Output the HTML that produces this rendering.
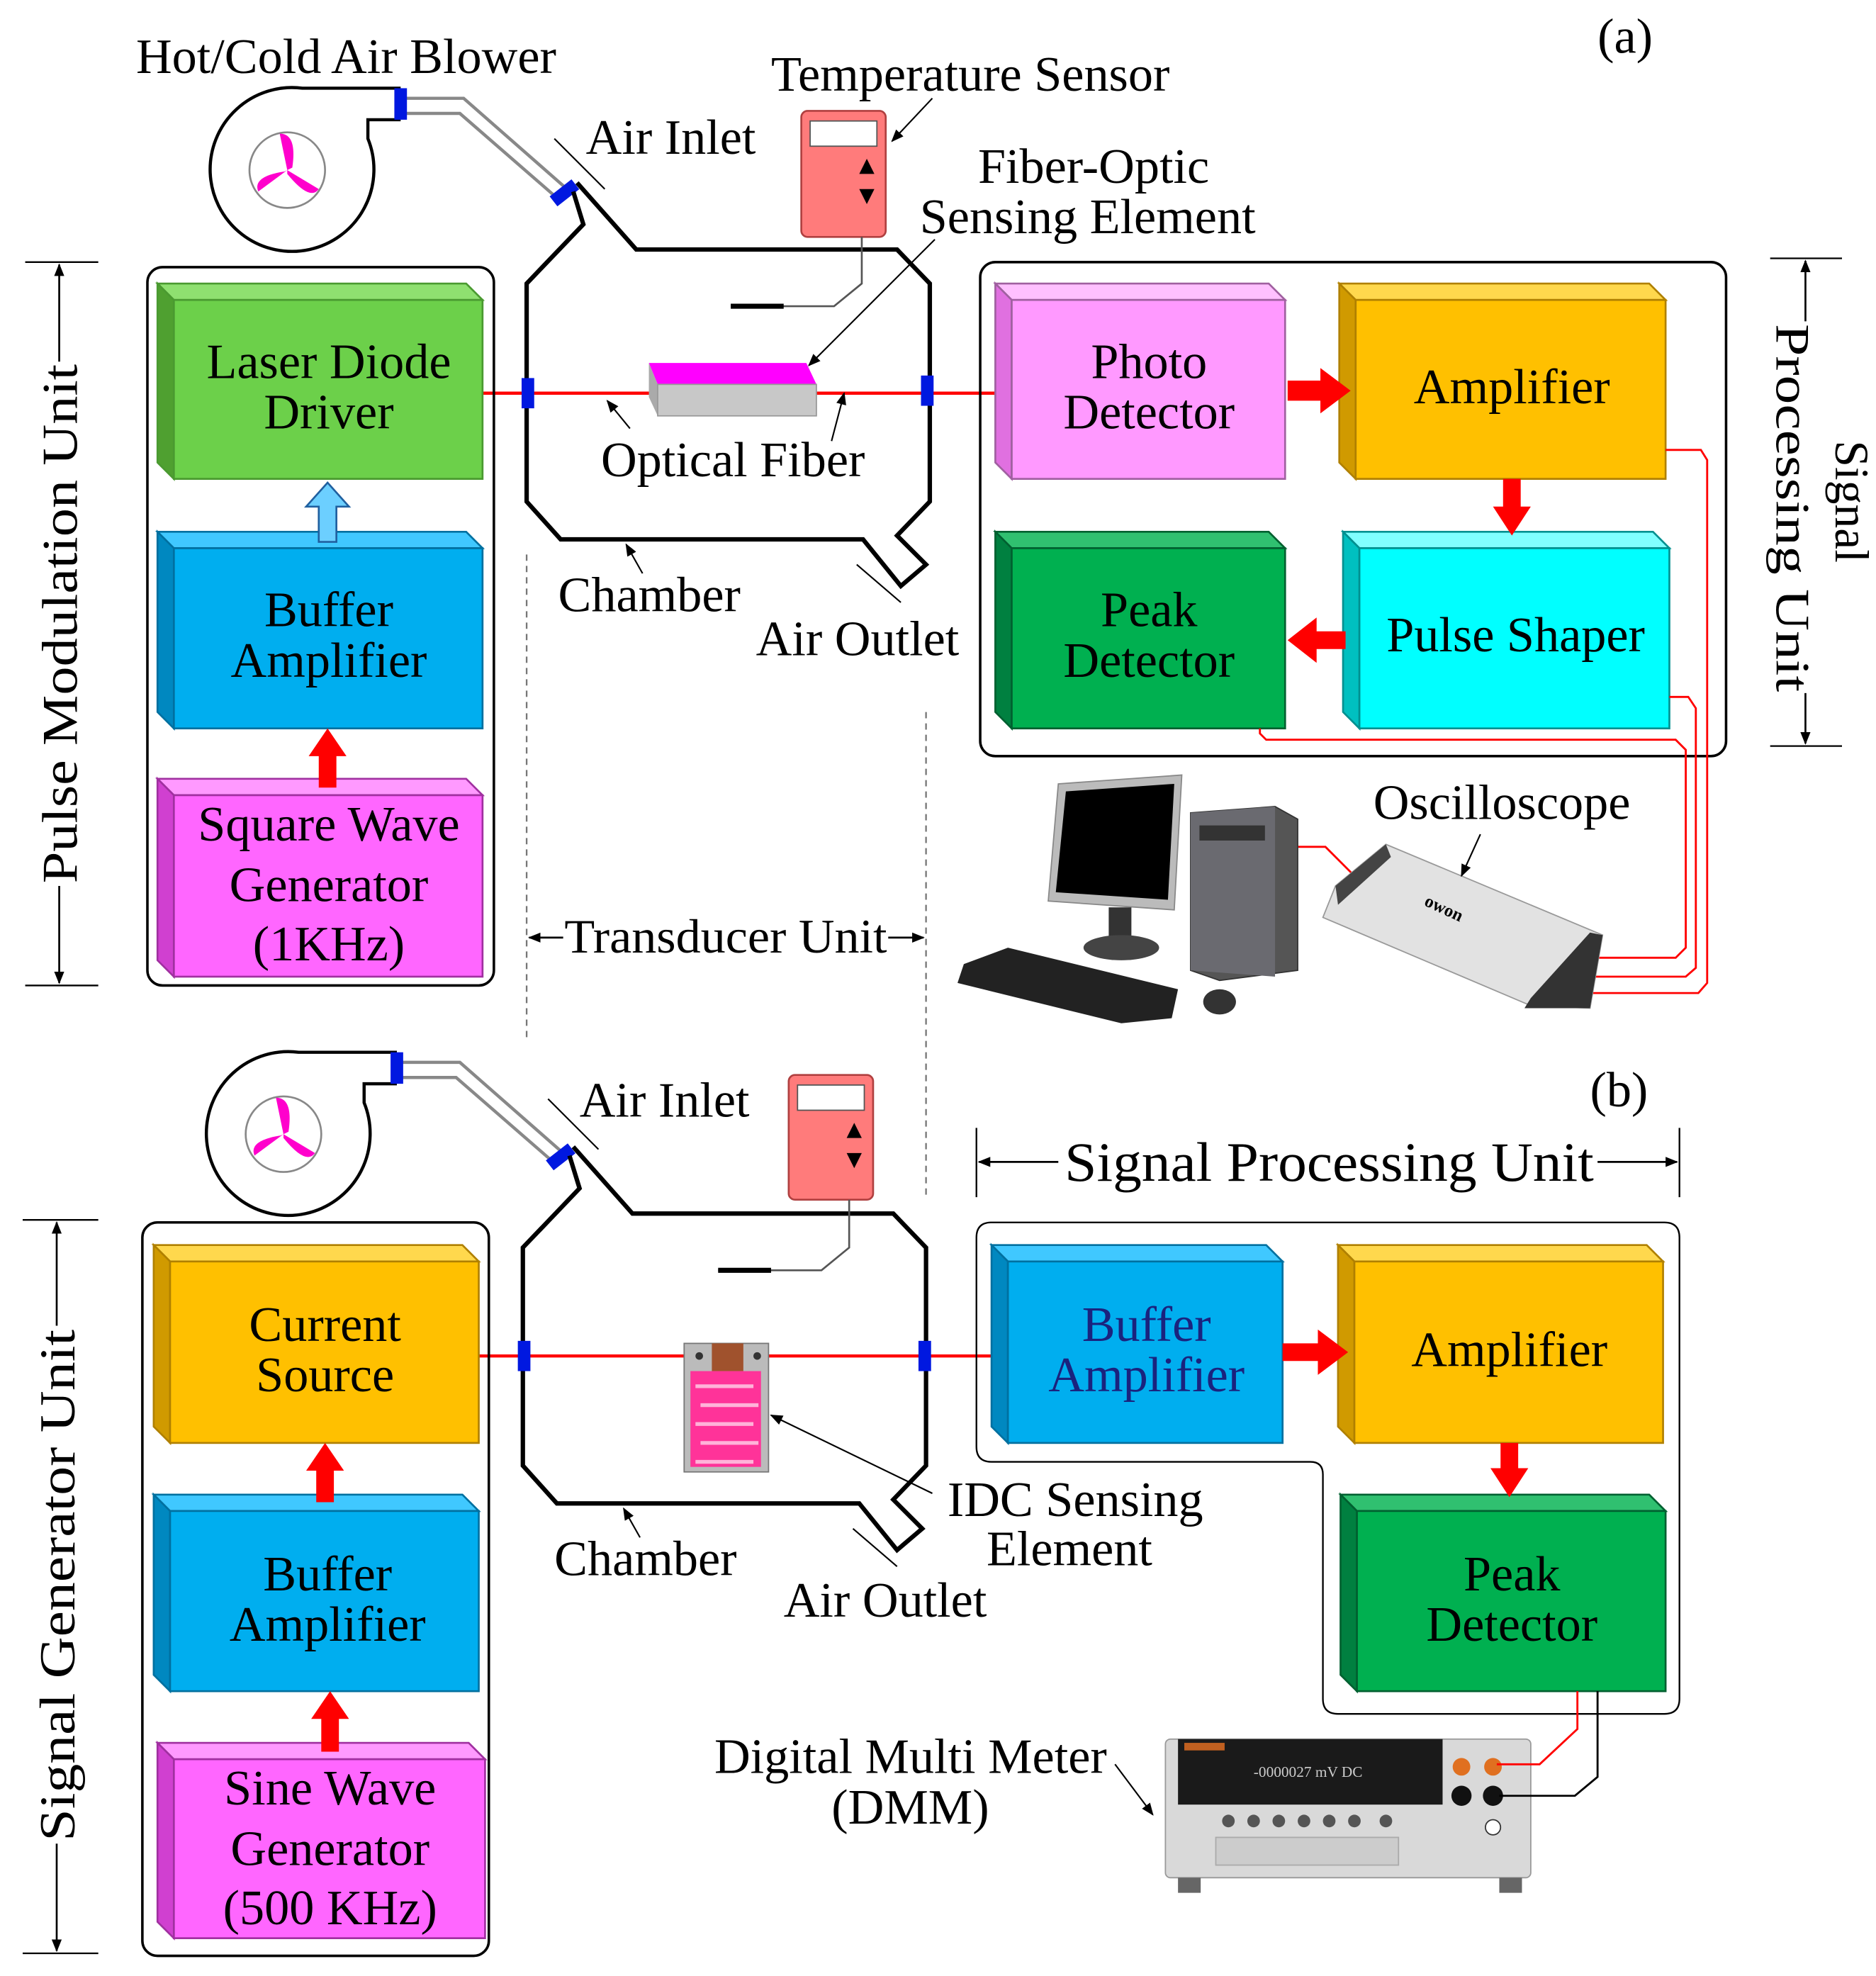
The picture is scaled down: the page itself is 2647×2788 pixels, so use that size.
<!DOCTYPE html>
<html><head><meta charset="utf-8"><style>
html,body{margin:0;padding:0;background:#fff}
svg{display:block}
text{font-family:"Liberation Serif",serif;fill:#000}
</style></head><body>
<svg width="2647" height="2788" viewBox="0 0 1489 1568" preserveAspectRatio="none" xmlns="http://www.w3.org/2000/svg">
<defs>
<marker id="ah" markerWidth="10" markerHeight="10" refX="9" refY="5" orient="auto" markerUnits="userSpaceOnUse"><path d="M0,1 L10,5 L0,9 Z" fill="#000"/></marker>
</defs>
<g font-size="39.5">
<text x="1268" y="42">(a)</text>
<text x="108" y="58">Hot/Cold Air Blower</text>
<text x="612" y="72">Temperature Sensor</text>
<text x="465" y="122">Air Inlet</text>
<text x="868" y="145" text-anchor="middle">Fiber-Optic</text>
<text x="730" y="185">Sensing Element</text>

<g fill="none" stroke="#000" stroke-width="2.5">
<path d="M318,70 L240,70 A65,65 0 1 0 292,110 L292,95 L318,95"/>
</g>
<circle cx="228" cy="135" r="30" fill="#fff" stroke="#888" stroke-width="1.5"/>
<path d="M228,135 L222,106 Q236,106 232,133 Z M228,135 L205,152 Q200,140 226,136 Z M228,135 L253,150 Q246,160 228,138 Z" fill="#ff00cc"/>
<path d="M318,78 L368,78 L450,150 M318,90 L365,90 L442,157" fill="none" stroke="#888" stroke-width="2.5"/>
<rect x="313" y="70" width="10" height="25" fill="#0018e0"/>
<rect x="437" y="148" width="22" height="10" fill="#0018e0" transform="rotate(-38 448 153)"/>
<path d="M455,152 L463,178 L418,225 L418,398 L445,428 L685,428 L715,465 L735,448 L712,425 L738,398 L738,225 L712,198 L505,198 L458,145" fill="none" stroke="#000" stroke-width="3.5"/>
<line x1="440" y1="110" x2="480" y2="150" stroke="#000" stroke-width="1.2"/>
<line x1="680" y1="448" x2="715" y2="478" stroke="#000" stroke-width="1.2"/>
<rect x="636" y="88" width="67" height="100" rx="5" fill="#ff7b7b" stroke="#b04040" stroke-width="1.5"/>
<rect x="643" y="96" width="53" height="20" fill="#fff" stroke="#555"/>
<path d="M688,126 L682,138 L694,138 Z M688,162 L682,150 L694,150 Z" fill="#000"/>
<path d="M684,188 L684,225 L662,243 L580,243" fill="none" stroke="#555" stroke-width="1.5"/>
<line x1="580" y1="243" x2="622" y2="243" stroke="#000" stroke-width="4"/>
<line x1="740" y1="78" x2="708" y2="112" stroke="#000" stroke-width="1.2" marker-end="url(#ah)"/>
<line x1="383" y1="312" x2="795" y2="312" stroke="#f00" stroke-width="2.5"/>
<polygon points="515,288 640,288 648,305 522,305" fill="#ff00ff"/>
<polygon points="515,288 522,305 522,330 515,315" fill="#aaa"/>
<rect x="522" y="305" width="126" height="25" fill="#c8c8c8" stroke="#999"/>
<rect x="414" y="300" width="10" height="24" fill="#0018e0"/>
<rect x="731" y="298" width="10" height="24" fill="#0018e0"/>
<line x1="742" y1="190" x2="642" y2="290" stroke="#000" stroke-width="1.2" marker-end="url(#ah)"/>
<line x1="500" y1="340" x2="482" y2="318" stroke="#000" stroke-width="1.2" marker-end="url(#ah)"/>
<line x1="660" y1="350" x2="670" y2="312" stroke="#000" stroke-width="1.2" marker-end="url(#ah)"/>
<text x="477" y="378">Optical Fiber</text>
<line x1="510" y1="455" x2="497" y2="432" stroke="#000" stroke-width="1.2" marker-end="url(#ah)"/>
<text x="443" y="485">Chamber</text>
<text x="600" y="520">Air Outlet</text>
<line x1="418" y1="440" x2="418" y2="825" stroke="#777" stroke-width="1.3" stroke-dasharray="5,4"/>
<line x1="735" y1="565" x2="735" y2="950" stroke="#777" stroke-width="1.3" stroke-dasharray="5,4"/>
<line x1="447" y1="744" x2="420" y2="744" stroke="#000" stroke-width="1.5" marker-end="url(#ah)"/>
<line x1="705" y1="744" x2="733" y2="744" stroke="#000" stroke-width="1.5" marker-end="url(#ah)"/>
<text x="576" y="756" text-anchor="middle" font-size="38" textLength="256" lengthAdjust="spacingAndGlyphs">Transducer Unit</text>

<rect x="117" y="212" width="275" height="570" rx="12" fill="none" stroke="#000" stroke-width="2"/>
<rect x="778" y="208" width="592" height="392" rx="12" fill="none" stroke="#000" stroke-width="2"/>

<g stroke-width="1.5">
<polygon points="125,225 370,225 383,238 138,238" fill="#8fe070" stroke="#4a9a30"/>
<polygon points="125,225 138,238 138,380 125,367" fill="#4fa030" stroke="#4a9a30"/>
<rect x="138" y="238" width="245" height="142" fill="#6cd04a" stroke="#4a9a30"/>
<polygon points="125,422 370,422 383,435 138,435" fill="#40c8ff" stroke="#0070a0"/>
<polygon points="125,422 138,435 138,578 125,565" fill="#0088c0" stroke="#0070a0"/>
<rect x="138" y="435" width="245" height="143" fill="#00aeef" stroke="#0070a0"/>
<polygon points="125,618 370,618 383,631 138,631" fill="#ff99ff" stroke="#a030a0"/>
<polygon points="125,618 138,631 138,775 125,762" fill="#d040d0" stroke="#a030a0"/>
<rect x="138" y="631" width="245" height="144" fill="#ff66ff" stroke="#a030a0"/>
<polygon points="790,225 1007,225 1020,238 803,238" fill="#ffc0ff" stroke="#a060a0"/>
<polygon points="790,225 803,238 803,380 790,367" fill="#e070e0" stroke="#a060a0"/>
<rect x="803" y="238" width="217" height="142" fill="#ff99ff" stroke="#a060a0"/>
<polygon points="1063,225 1309,225 1322,238 1076,238" fill="#ffd84d" stroke="#b08000"/>
<polygon points="1063,225 1076,238 1076,380 1063,367" fill="#d09a00" stroke="#b08000"/>
<rect x="1076" y="238" width="246" height="142" fill="#ffc000" stroke="#b08000"/>
<polygon points="790,422 1007,422 1020,435 803,435" fill="#30c070" stroke="#006030"/>
<polygon points="790,422 803,435 803,578 790,565" fill="#008040" stroke="#006030"/>
<rect x="803" y="435" width="217" height="143" fill="#00b050" stroke="#006030"/>
<polygon points="1066,422 1312,422 1325,435 1079,435" fill="#80ffff" stroke="#009090"/>
<polygon points="1066,422 1079,435 1079,578 1066,565" fill="#00c0c0" stroke="#009090"/>
<rect x="1079" y="435" width="246" height="143" fill="#00ffff" stroke="#009090"/>
</g>
<text x="261" y="300" text-anchor="middle">Laser Diode</text>
<text x="261" y="340" text-anchor="middle">Driver</text>
<text x="261" y="497" text-anchor="middle">Buffer</text>
<text x="261" y="537" text-anchor="middle">Amplifier</text>
<text x="261" y="667" text-anchor="middle">Square Wave</text>
<text x="261" y="715" text-anchor="middle">Generator</text>
<text x="261" y="762" text-anchor="middle">(1KHz)</text>
<text x="912" y="300" text-anchor="middle">Photo</text>
<text x="912" y="340" text-anchor="middle">Detector</text>
<text x="1200" y="320" text-anchor="middle">Amplifier</text>
<text x="912" y="497" text-anchor="middle">Peak</text>
<text x="912" y="537" text-anchor="middle">Detector</text>
<text x="1203" y="517" text-anchor="middle">Pulse Shaper</text>

<g fill="#f00">
<polygon points="1022,302 1048,302 1048,292 1072,310 1048,328 1048,318 1022,318"/>
<polygon points="1193,380 1207,380 1207,402 1215,402 1200,425 1185,402 1193,402"/>
<polygon points="1068,501 1045,501 1045,490 1022,508 1045,526 1045,515 1068,515"/>
<polygon points="253,625 267,625 267,600 275,600 260,578 245,600 253,600"/>
</g>
<polygon points="253,430 267,430 267,402 277,402 260,383 243,402 253,402" fill="#6ccfff" stroke="#2060a0" stroke-width="1.5"/>

<g fill="none" stroke="#f00" stroke-width="1.6">
<path d="M1322,357 L1350,357 L1355,365 L1355,780 L1348,788 L1215,788"/>
<path d="M1325,553 L1340,553 L1346,562 L1346,768 L1338,775 L1225,775"/>
<path d="M1000,578 L1000,582 L1005,587 L1330,587 L1338,595 L1338,752 L1330,760 L1235,760"/>
<path d="M1030,672 L1052,672 L1075,695"/>
</g>
<polygon points="840,622 938,615 932,722 832,715" fill="#bbb" stroke="#888"/>
<polygon points="846,628 932,622 927,714 838,708" fill="#000"/>
<rect x="880" y="720" width="18" height="30" fill="#333"/>
<ellipse cx="890" cy="752" rx="30" ry="10" fill="#444"/>
<polygon points="945,645 1012,640 1030,650 1030,770 968,778 945,770" fill="#555" stroke="#333"/>
<polygon points="945,645 1012,640 1012,775 945,770" fill="#6a6a70"/>
<rect x="952" y="655" width="52" height="12" fill="#333"/>
<polygon points="765,765 800,752 935,785 930,808 890,812 760,780" fill="#222"/>
<ellipse cx="968" cy="795" rx="13" ry="10" fill="#333"/>
<polygon points="1060,703 1100,670 1272,742 1262,800 1215,798 1050,728" fill="#e2e2e2" stroke="#999"/>
<polygon points="1060,703 1100,670 1104,680 1062,718" fill="#444"/>
<polygon points="1262,740 1272,742 1262,800 1210,800 1215,792" fill="#333"/>
<text x="1130" y="727" font-size="14" fill="#e07020" transform="rotate(25 1150 722)" font-family="Liberation Sans,sans-serif" font-weight="bold">owon</text>
<text x="1090" y="650">Oscilloscope</text>
<line x1="1175" y1="662" x2="1160" y2="695" stroke="#000" stroke-width="1.2" marker-end="url(#ah)"/>

<line x1="20" y1="208" x2="78" y2="208" stroke="#000" stroke-width="1.3"/>
<line x1="20" y1="782" x2="78" y2="782" stroke="#000" stroke-width="1.3"/>
<line x1="47" y1="287" x2="47" y2="210" stroke="#000" stroke-width="1.5" marker-end="url(#ah)"/>
<line x1="47" y1="703" x2="47" y2="780" stroke="#000" stroke-width="1.5" marker-end="url(#ah)"/>
<text transform="translate(61,495) rotate(-90)" text-anchor="middle" font-size="40" textLength="412" lengthAdjust="spacingAndGlyphs">Pulse Modulation Unit</text>
<line x1="1405" y1="205" x2="1462" y2="205" stroke="#000" stroke-width="1.3"/>
<line x1="1405" y1="592" x2="1462" y2="592" stroke="#000" stroke-width="1.3"/>
<line x1="1433" y1="255" x2="1433" y2="207" stroke="#000" stroke-width="1.5" marker-end="url(#ah)"/>
<line x1="1433" y1="550" x2="1433" y2="590" stroke="#000" stroke-width="1.5" marker-end="url(#ah)"/>
<text transform="translate(1457,398) rotate(90)" text-anchor="middle" font-size="38">Signal</text>
<text transform="translate(1410,403) rotate(90)" text-anchor="middle" font-size="38" textLength="292" lengthAdjust="spacingAndGlyphs">Processing Unit</text>

<text x="1262" y="878">(b)</text>
<g fill="none" stroke="#000" stroke-width="2.5">
<path d="M315,835 L237,835 A65,65 0 1 0 289,875 L289,860 L315,860"/>
</g>
<circle cx="225" cy="900" r="30" fill="#fff" stroke="#888" stroke-width="1.5"/>
<path d="M225,900 L219,871 Q233,871 229,898 Z M225,900 L202,917 Q197,905 223,901 Z M225,900 L250,915 Q243,925 225,903 Z" fill="#ff00cc"/>
<path d="M315,843 L365,843 L447,915 M315,855 L362,855 L439,922" fill="none" stroke="#888" stroke-width="2.5"/>
<rect x="310" y="835" width="10" height="25" fill="#0018e0"/>
<rect x="434" y="913" width="22" height="10" fill="#0018e0" transform="rotate(-38 445 918)"/>
<path d="M452,917 L460,943 L415,990 L415,1163 L442,1193 L682,1193 L712,1230 L732,1213 L709,1190 L735,1163 L735,990 L709,963 L502,963 L455,910" fill="none" stroke="#000" stroke-width="3.5"/>
<line x1="435" y1="872" x2="475" y2="912" stroke="#000" stroke-width="1.2"/>
<line x1="677" y1="1213" x2="712" y2="1243" stroke="#000" stroke-width="1.2"/>
<rect x="626" y="853" width="67" height="99" rx="5" fill="#ff7b7b" stroke="#b04040" stroke-width="1.5"/>
<rect x="633" y="861" width="53" height="20" fill="#fff" stroke="#555"/>
<path d="M678,891 L672,903 L684,903 Z M678,927 L672,915 L684,915 Z" fill="#000"/>
<path d="M674,952 L674,990 L652,1008 L570,1008" fill="none" stroke="#555" stroke-width="1.5"/>
<line x1="570" y1="1008" x2="612" y2="1008" stroke="#000" stroke-width="4"/>
<line x1="380" y1="1076" x2="793" y2="1076" stroke="#f00" stroke-width="2.5"/>
<rect x="411" y="1064" width="10" height="24" fill="#0018e0"/>
<rect x="729" y="1064" width="10" height="24" fill="#0018e0"/>
<rect x="543" y="1066" width="67" height="102" fill="#bbb" stroke="#777"/>
<rect x="565" y="1066" width="25" height="22" fill="#a0522d"/>
<rect x="548" y="1088" width="56" height="76" fill="#ff3399"/>
<g stroke="#ffb3d9" stroke-width="3" fill="none">
<path d="M552,1100 L598,1100 M556,1115 L602,1115 M552,1130 L598,1130 M556,1145 L602,1145 M552,1160 L598,1160"/>
</g>
<circle cx="555" cy="1076" r="3" fill="#333"/><circle cx="601" cy="1076" r="3" fill="#333"/>
<line x1="740" y1="1185" x2="612" y2="1123" stroke="#000" stroke-width="1.2" marker-end="url(#ah)"/>
<text x="460" y="886">Air Inlet</text>
<line x1="508" y1="1220" x2="495" y2="1197" stroke="#000" stroke-width="1.2" marker-end="url(#ah)"/>
<text x="440" y="1250">Chamber</text>
<text x="622" y="1283">Air Outlet</text>
<text x="752" y="1203">IDC Sensing</text>
<text x="783" y="1242">Element</text>
<text x="567" y="1407">Digital Multi Meter</text>
<text x="660" y="1447">(DMM)</text>
<line x1="885" y1="1400" x2="915" y2="1440" stroke="#000" stroke-width="1.2" marker-end="url(#ah)"/>

<line x1="775" y1="895" x2="775" y2="950" stroke="#000" stroke-width="1.3"/>
<line x1="1333" y1="895" x2="1333" y2="950" stroke="#000" stroke-width="1.3"/>
<line x1="840" y1="922" x2="777" y2="922" stroke="#000" stroke-width="1.5" marker-end="url(#ah)"/>
<line x1="1268" y1="922" x2="1331" y2="922" stroke="#000" stroke-width="1.5" marker-end="url(#ah)"/>
<text x="1055" y="937" text-anchor="middle" font-size="44" textLength="420" lengthAdjust="spacingAndGlyphs">Signal Processing Unit</text>

<rect x="113" y="970" width="275" height="582" rx="12" fill="none" stroke="#000" stroke-width="2"/>
<path d="M787,970 L1321,970 Q1333,970 1333,982 L1333,1348 Q1333,1360 1321,1360 L1062,1360 Q1050,1360 1050,1348 L1050,1170 Q1050,1160 1040,1160 L787,1160 Q775,1160 775,1148 L775,982 Q775,970 787,970 Z" fill="none" stroke="#000" stroke-width="1.3"/>

<g stroke-width="1.5">
<polygon points="122,988 367,988 380,1001 135,1001" fill="#ffd84d" stroke="#b08000"/>
<polygon points="122,988 135,1001 135,1145 122,1132" fill="#d09a00" stroke="#b08000"/>
<rect x="135" y="1001" width="245" height="144" fill="#ffc000" stroke="#b08000"/>
<polygon points="122,1186 367,1186 380,1199 135,1199" fill="#40c8ff" stroke="#0070a0"/>
<polygon points="122,1186 135,1199 135,1342 122,1329" fill="#0088c0" stroke="#0070a0"/>
<rect x="135" y="1199" width="245" height="143" fill="#00aeef" stroke="#0070a0"/>
<polygon points="125,1383 372,1383 385,1396 138,1396" fill="#ff99ff" stroke="#a030a0"/>
<polygon points="125,1383 138,1396 138,1538 125,1525" fill="#d040d0" stroke="#a030a0"/>
<rect x="138" y="1396" width="247" height="142" fill="#ff66ff" stroke="#a030a0"/>
<polygon points="787,988 1005,988 1018,1001 800,1001" fill="#40c8ff" stroke="#0070a0"/>
<polygon points="787,988 800,1001 800,1145 787,1132" fill="#0088c0" stroke="#0070a0"/>
<rect x="800" y="1001" width="218" height="144" fill="#00aeef" stroke="#0070a0"/>
<polygon points="1062,988 1307,988 1320,1001 1075,1001" fill="#ffd84d" stroke="#b08000"/>
<polygon points="1062,988 1075,1001 1075,1145 1062,1132" fill="#d09a00" stroke="#b08000"/>
<rect x="1075" y="1001" width="245" height="144" fill="#ffc000" stroke="#b08000"/>
<polygon points="1064,1186 1309,1186 1322,1199 1077,1199" fill="#30c070" stroke="#006030"/>
<polygon points="1064,1186 1077,1199 1077,1342 1064,1329" fill="#008040" stroke="#006030"/>
<rect x="1077" y="1199" width="245" height="143" fill="#00b050" stroke="#006030"/>
</g>
<text x="258" y="1064" text-anchor="middle">Current</text>
<text x="258" y="1104" text-anchor="middle">Source</text>
<text x="260" y="1262" text-anchor="middle">Buffer</text>
<text x="260" y="1302" text-anchor="middle">Amplifier</text>
<text x="262" y="1432" text-anchor="middle">Sine Wave</text>
<text x="262" y="1480" text-anchor="middle">Generator</text>
<text x="262" y="1527" text-anchor="middle">(500 KHz)</text>
<text x="910" y="1064" text-anchor="middle" style="fill:#1a237e">Buffer</text>
<text x="910" y="1104" text-anchor="middle" style="fill:#1a237e">Amplifier</text>
<text x="1198" y="1084" text-anchor="middle">Amplifier</text>
<text x="1200" y="1262" text-anchor="middle">Peak</text>
<text x="1200" y="1302" text-anchor="middle">Detector</text>

<g fill="#f00">
<polygon points="1018,1066 1046,1066 1046,1055 1070,1073 1046,1091 1046,1080 1018,1080"/>
<polygon points="1191,1145 1205,1145 1205,1165 1213,1165 1198,1188 1183,1165 1191,1165"/>
<polygon points="251,1192 265,1192 265,1167 273,1167 258,1145 243,1167 251,1167"/>
<polygon points="255,1390 269,1390 269,1364 277,1364 262,1342 247,1364 255,1364"/>
</g>

<line x1="18" y1="968" x2="78" y2="968" stroke="#000" stroke-width="1.3"/>
<line x1="18" y1="1550" x2="78" y2="1550" stroke="#000" stroke-width="1.3"/>
<line x1="45" y1="1052" x2="45" y2="970" stroke="#000" stroke-width="1.5" marker-end="url(#ah)"/>
<line x1="45" y1="1463" x2="45" y2="1548" stroke="#000" stroke-width="1.5" marker-end="url(#ah)"/>
<text transform="translate(59,1258) rotate(-90)" text-anchor="middle" font-size="40" textLength="406" lengthAdjust="spacingAndGlyphs">Signal Generator Unit</text>

<rect x="925" y="1380" width="290" height="110" rx="4" fill="#d9d9d9" stroke="#999"/>
<rect x="935" y="1380" width="210" height="52" fill="#1a1a1a"/>
<text x="995" y="1410" font-size="12" style="fill:#ccc" font-family="Liberation Mono,monospace">-0000027 mV DC</text>
<rect x="940" y="1383" width="32" height="6" fill="#c06020"/>
<g fill="#555">
<circle cx="975" cy="1445" r="5"/><circle cx="995" cy="1445" r="5"/><circle cx="1015" cy="1445" r="5"/><circle cx="1035" cy="1445" r="5"/><circle cx="1055" cy="1445" r="5"/><circle cx="1075" cy="1445" r="5"/><circle cx="1100" cy="1445" r="5"/>
</g>
<rect x="965" y="1458" width="145" height="22" fill="#ccc" stroke="#aaa"/>
<circle cx="1160" cy="1402" r="7" fill="#e07020"/><circle cx="1185" cy="1402" r="7" fill="#e07020"/>
<circle cx="1160" cy="1425" r="8" fill="#111"/><circle cx="1185" cy="1425" r="8" fill="#111"/>
<circle cx="1185" cy="1450" r="6" fill="#fff" stroke="#333"/>
<rect x="935" y="1490" width="18" height="12" fill="#666"/><rect x="1190" y="1490" width="18" height="12" fill="#666"/>
<path d="M1252,1342 L1252,1372 L1222,1400 L1188,1400" fill="none" stroke="#f00" stroke-width="1.6"/>
<path d="M1268,1342 L1268,1410 L1250,1425 L1190,1425" fill="none" stroke="#000" stroke-width="1.6"/>
</g>
</svg>
</body></html>
